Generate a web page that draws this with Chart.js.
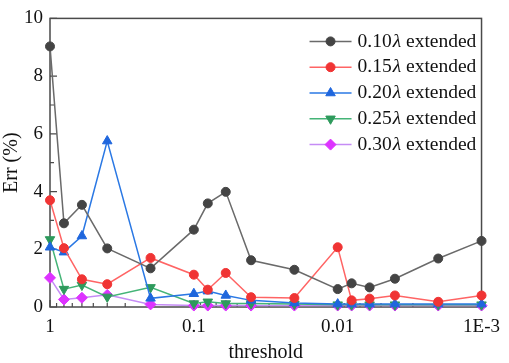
<!DOCTYPE html>
<html>
<head>
<meta charset="utf-8">
<script src="https://cdn.jsdelivr.net/npm/chart.js@4/dist/chart.umd.min.js"></script>
<style>
  html, body { margin: 0; padding: 0; background: #fff; }
  #wrap { width: 509px; height: 363px; }
</style>
</head>
<body>
<div id="wrap"><canvas id="chart"></canvas></div>
<script>
// threshold values (x, log scale, reversed)
const thresholds = [1, 0.8, 0.6, 0.4, 0.2, 0.1, 0.08, 0.06, 0.04, 0.02, 0.01, 0.008, 0.006, 0.004, 0.002, 0.001];
// Err (%) per series
const err010 = [9.03, 2.9, 3.54, 2.03, 1.34, 2.68, 3.59, 3.99, 1.62, 1.29, 0.62, 0.82, 0.68, 0.98, 1.68, 2.29];
const err015 = [3.7, 2.04, 0.96, 0.79, 1.7, 1.12, 0.6, 1.18, 0.34, 0.31, 2.07, 0.23, 0.29, 0.4, 0.18, 0.4];
const err020 = [2.07, 1.9, 2.46, 5.75, 0.3, 0.46, 0.55, 0.4, 0.23, 0.14, 0.1, 0.1, 0.1, 0.1, 0.1, 0.1];
const err025 = [2.34, 0.62, 0.76, 0.35, 0.68, 0.12, 0.18, 0.12, 0.12, 0.1, 0.08, 0.08, 0.08, 0.08, 0.08, 0.08];
const err030 = [1.01, 0.26, 0.32, 0.42, 0.09, 0.05, 0.05, 0.05, 0.05, 0.05, 0.05, 0.05, 0.05, 0.05, 0.05, 0.05];
const seriesNames = ["0.10", "0.15", "0.20", "0.25", "0.30"];
// tick labels
const xTickValues = [1, 0.1, 0.01, 0.001];
const xTickLabels = ["1", "0.1", "0.01", "1E-3"];

const serif = "'Liberation Serif', 'Times New Roman', serif";
const textColor = "#111";

function pts(ys) {
  return thresholds.map(function (t, i) { return { x: t, y: ys[i] }; });
}

function makeSet(name, ys, line, mark, style, rot, rad) {
  return {
    label: name,
    data: pts(ys),
    borderColor: line,
    backgroundColor: mark,
    pointBackgroundColor: mark,
    pointBorderColor: mark,
    pointStyle: style,
    rotation: rot,
    pointRadius: rad,
    borderWidth: 1.5,
    pointBorderWidth: 1,
    clip: false
  };
}

const datasets = [
  makeSet(seriesNames[0], err010, "#6a6a6a", "#444444", "circle", 0, 4.5),
  makeSet(seriesNames[1], err015, "#ff6464", "#f03434", "circle", 0, 4.5),
  makeSet(seriesNames[2], err020, "#2a78e4", "#1f66dd", "triangle", 0, 5.5),
  makeSet(seriesNames[3], err025, "#44b477", "#2e9a5c", "triangle", 180, 5.5),
  makeSet(seriesNames[4], err030, "#c58cf5", "#dd33ff", "rectRot", 0, 5.5)
];

// frame + inward tick marks
const framePlugin = {
  id: "frame",
  beforeDatasetsDraw(chart) {
    const ctx = chart.ctx, a = chart.chartArea;
    const xs = chart.scales.x, ys = chart.scales.y;
    ctx.save();
    ctx.strokeStyle = "#4a4a4a";
    ctx.lineWidth = 1.5;
    ctx.strokeRect(a.left, a.top, a.right - a.left, a.bottom - a.top);
    ctx.lineWidth = 1.2;
    ctx.beginPath();
    for (let v = 0; v <= 10; v++) {
      const py = ys.getPixelForValue(v);
      const len = v % 2 === 0 ? 7 : 4;
      ctx.moveTo(a.left, py);
      ctx.lineTo(a.left + len, py);
    }
    for (let d = 0; d < 3; d++) {
      const base = xTickValues[d + 1];
      for (let m = 1; m <= 10; m++) {
        const px = xs.getPixelForValue(base * m);
        const len = (m === 1 || m === 10) ? 7 : 4;
        ctx.moveTo(px, a.bottom);
        ctx.lineTo(px, a.bottom - len);
      }
    }
    ctx.stroke();
    ctx.restore();
  }
};

// legend inside plot, top right, with italic lambda
const legendPlugin = {
  id: "innerLegend",
  afterDatasetsDraw(chart) {
    const ctx = chart.ctx, a = chart.chartArea;
    ctx.save();
    chart.data.datasets.forEach(function (ds, i) {
      const y = a.top + 23 + i * 25.8;
      const x0 = a.right - 172, x1 = a.right - 130;
      ctx.strokeStyle = ds.borderColor;
      ctx.lineWidth = 1.5;
      ctx.beginPath();
      ctx.moveTo(x0, y);
      ctx.lineTo(x1, y);
      ctx.stroke();
      ctx.fillStyle = ds.pointBackgroundColor;
      ctx.strokeStyle = ds.pointBorderColor;
      ctx.lineWidth = 1;
      Chart.helpers.drawPoint(ctx, {
        pointStyle: ds.pointStyle,
        rotation: ds.rotation,
        radius: ds.pointRadius,
        borderWidth: 1
      }, (x0 + x1) / 2, y);
      let tx = a.right - 124;
      ctx.fillStyle = textColor;
      ctx.textBaseline = "middle";
      ctx.font = "19.5px " + serif;
      ctx.fillText(ds.label, tx, y);
      tx += ctx.measureText(ds.label).width + 1;
      ctx.font = "italic 19.5px " + serif;
      ctx.fillText("\u03bb", tx, y);
      tx += ctx.measureText("\u03bb").width;
      ctx.font = "19.5px " + serif;
      ctx.fillText(" extended", tx, y);
    });
    ctx.restore();
  }
};

new Chart(document.getElementById("chart"), {
  type: "line",
  data: { datasets: datasets },
  options: {
    responsive: true,
    maintainAspectRatio: false,
    animation: false,
    layout: { padding: { top: 7, right: 22, left: 0, bottom: 0 } },
    plugins: {
      legend: { display: false },
      tooltip: { enabled: false }
    },
    scales: {
      x: {
        type: "logarithmic",
        reverse: true,
        min: 0.001,
        max: 1,
        afterFit: function (s) { s.height = 56; },
        afterBuildTicks: function (s) {
          s.ticks = xTickValues.map(function (v) { return { value: v }; });
        },
        grid: { display: false, drawTicks: false },
        border: { display: false },
        ticks: {
          padding: 9,
          maxRotation: 0,
          autoSkip: false,
          color: textColor,
          font: { family: serif, size: 19 },
          callback: function (v) {
            const i = xTickValues.indexOf(v);
            return i >= 0 ? xTickLabels[i] : "";
          }
        },
        title: {
          display: true,
          text: "threshold",
          color: textColor,
          font: { family: serif, size: 20 },
          padding: { top: 0, bottom: -2 }
        }
      },
      y: {
        min: 0,
        max: 10,
        afterFit: function (s) { s.width = 50; },
        grid: { display: false, drawTicks: false },
        border: { display: false },
        ticks: {
          stepSize: 2,
          padding: 7,
          color: textColor,
          font: { family: serif, size: 19 }
        },
        title: {
          display: true,
          text: "Err (%)",
          color: textColor,
          font: { family: serif, size: 20 },
          padding: { top: 0, bottom: 0 }
        }
      }
    }
  },
  plugins: [framePlugin, legendPlugin]
});
</script>
</body>
</html>
